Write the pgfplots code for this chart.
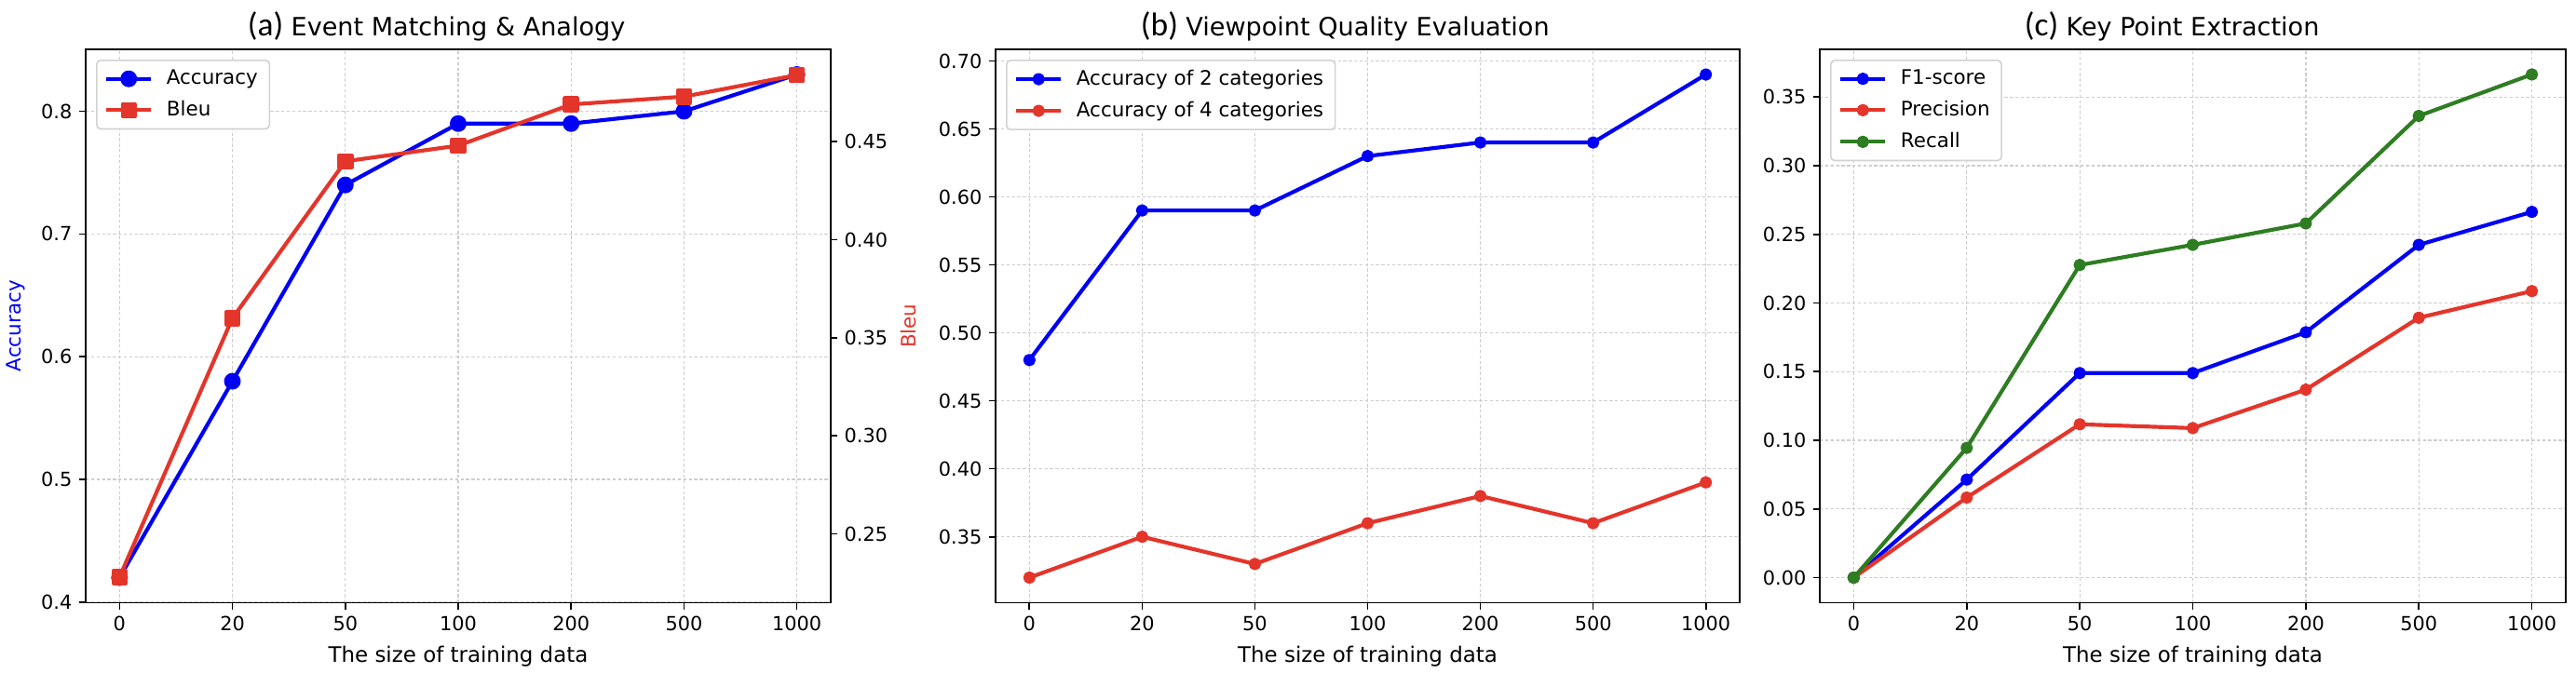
\documentclass[border=0pt]{standalone}
\usepackage{fontspec}
\setmainfont{DejaVu Sans}
\newfontfamily\abcfont{Carlito}
\usepackage{pgfplots}
\pgfplotsset{compat=1.18}
\definecolor{cblue}{RGB}{0,0,245}
\definecolor{cred}{RGB}{228,53,43}
\definecolor{cgreen}{RGB}{46,125,34}
\definecolor{cgrid}{RGB}{205,205,205}
\definecolor{cleg}{RGB}{210,210,210}

\pgfplotsset{
  mystyle/.style={
    scale only axis, height=285.36pt,
    xmin=-0.3, xmax=6.3,
    xtick={0,1,2,3,4,5,6}, xticklabels={0,20,50,100,200,500,1000},
    tick align=outside, major tick length=3.5pt,
    every tick/.style={black, line width=0.8pt},
    axis line style={line width=0.8pt},
    xtick pos=left, ytick pos=left,
    tick label style={font=\fontsize{10}{12}\selectfont},
    /pgf/number format/assume math mode=true,
    grid=major, major grid style={cgrid, line width=0.6pt, dash pattern=on 1.6pt off 1.2pt},
    every axis x label/.style={at={(rel axis cs:0.5,0)}, anchor=base, yshift=-30.5pt, font=\fontsize{11}{13}\selectfont},
    every axis title/.style={at={(rel axis cs:0.5,1)}, anchor=base, yshift=7.2pt, font=\fontsize{13}{15}\selectfont},
    legend cell align=left,
    legend style={at={(0,1)}, anchor=north west, xshift=5.3pt, yshift=-5.3pt,
      draw=cleg, line width=0.8pt, rounded corners=2pt, fill=white,
      font=\fontsize{10.3}{12}\selectfont, row sep=3pt, column sep=5pt, inner xsep=4pt, inner ysep=3pt},
    legend image code/.code={\draw[mark repeat=2,mark phase=2] plot coordinates {(0pt,0pt) (11.5pt,0pt) (23pt,0pt)};},
  },
  myline/.style={line width=2pt, line join=round, mark options={solid}},
}

\pgfplotstableread{
x acc bleu
0 0.42 0.228
1 0.58 0.360
2 0.74 0.440
3 0.79 0.448
4 0.79 0.469
5 0.80 0.473
6 0.83 0.484
}\dataA
\pgfplotstableread{
x two four
0 0.48 0.32
1 0.59 0.35
2 0.59 0.33
3 0.63 0.36
4 0.64 0.38
5 0.64 0.36
6 0.69 0.39
}\dataB
\pgfplotstableread{
x f1 prec rec
0 0.0 0.0 0.0
1 0.0714 0.0583 0.0945
2 0.149 0.1117 0.2277
3 0.149 0.1089 0.2424
4 0.1787 0.1369 0.258
5 0.2424 0.1893 0.3363
6 0.2664 0.2087 0.3665
}\dataC

\begin{document}
\begin{tikzpicture}
\path[use as bounding box] (0,0) rectangle (1327.68pt,346.56pt);

% ---------- panel (a)
\begin{axis}[mystyle, at={(44.16pt,35.76pt)}, anchor=south west, width=384pt,
  ymin=0.3995, ymax=0.8505, ytick={0.4,0.5,0.6,0.7,0.8},
  yticklabel style={/pgf/number format/.cd, fixed, fixed zerofill, precision=1},
  xlabel={The size of training data},
  ylabel={Accuracy},
  every axis y label/.style={at={(rel axis cs:0,0.5)}, rotate=90, anchor=center, yshift=36.2pt, font=\fontsize{10.3}{12}\selectfont, text=cblue},
  title={\llap{{\abcfont\fontsize{17}{17}\selectfont (a)}\hspace{4pt}}Event Matching \& Analogy}]
\addplot[myline, cblue, mark=*, mark size=3.3pt] table[x=x, y=acc] {\dataA};
\end{axis}
\begin{axis}[mystyle, at={(44.16pt,35.76pt)}, anchor=south west, width=384pt,
  ymin=0.2149, ymax=0.4971, ytick={0.25,0.30,0.35,0.40,0.45},
  yticklabel style={/pgf/number format/.cd, fixed, fixed zerofill, precision=2},
  xtick=\empty, grid=none, ytick pos=right, yticklabel pos=right,
  ylabel={Bleu},
  every axis y label/.style={at={(rel axis cs:1,0.5)}, rotate=90, anchor=center, yshift=-40.3pt, font=\fontsize{10.3}{12}\selectfont, text=cred}]
\addlegendimage{myline, cblue, mark=*, mark size=3.3pt}
\addlegendentry{Accuracy}
\addplot[myline, cred, mark=square*, mark size=3.2pt] table[x=x, y=bleu] {\dataA};
\addlegendentry{Bleu}
\end{axis}

% ---------- panel (b)
\begin{axis}[mystyle, at={(513.12pt,35.76pt)}, anchor=south west, width=383.52pt,
  ymin=0.3015, ymax=0.7085, ytick={0.35,0.40,0.45,0.50,0.55,0.60,0.65,0.70},
  yticklabel style={/pgf/number format/.cd, fixed, fixed zerofill, precision=2},
  xlabel={The size of training data},
  title={\llap{{\abcfont\fontsize{17}{17}\selectfont (b)}\hspace{4pt}}Viewpoint Quality Evaluation}]
\addplot[myline, cblue, mark=*, mark size=2.2pt] table[x=x, y=two] {\dataB};
\addlegendentry{Accuracy of 2 categories}
\addplot[myline, cred, mark=*, mark size=2.2pt] table[x=x, y=four] {\dataB};
\addlegendentry{Accuracy of 4 categories}
\end{axis}

% ---------- panel (c)
\begin{axis}[mystyle, at={(937.92pt,35.76pt)}, anchor=south west, width=384.48pt,
  ymin=-0.0183, ymax=0.3848, ytick={0,0.05,0.10,0.15,0.20,0.25,0.30,0.35},
  yticklabel style={/pgf/number format/.cd, fixed, fixed zerofill, precision=2},
  xlabel={The size of training data},
  title={\llap{{\abcfont\fontsize{17}{17}\selectfont (c)}\hspace{4pt}}Key Point Extraction}]
\addplot[myline, cblue, mark=*, mark size=2.2pt] table[x=x, y=f1] {\dataC};
\addlegendentry{F1-score}
\addplot[myline, cred, mark=*, mark size=2.2pt] table[x=x, y=prec] {\dataC};
\addlegendentry{Precision}
\addplot[myline, cgreen, mark=*, mark size=2.2pt] table[x=x, y=rec] {\dataC};
\addlegendentry{Recall}
\end{axis}
\end{tikzpicture}
\end{document}
